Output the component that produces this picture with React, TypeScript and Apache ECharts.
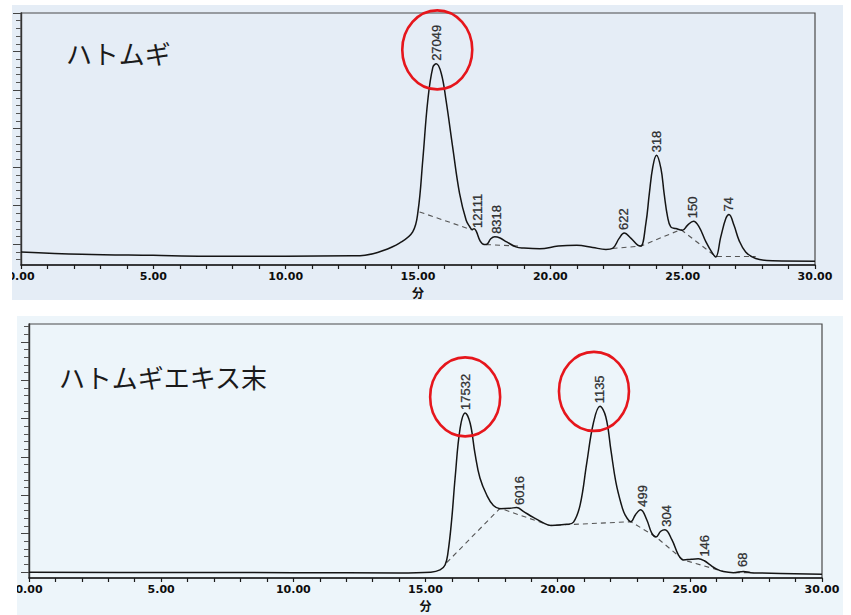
import React, { useEffect, useRef } from "react";
import * as echarts from "echarts";

// ---------- shared axis settings ----------
const timeMin = 0;
const timeMax = 30;
const timeLabelStep = 5;
const majorSignalTicks = [0, 10, 20, 30, 40, 50, 60];

// ---------- ハトムギ (top) ----------
const hatomugiTitle = "ハトムギ";
const hatomugiTime = [
  0, 2.3, 5, 7, 10, 12.5, 13.0, 13.66, 14.3, 14.8, 15.0, 15.18, 15.37, 15.56, 15.69, 15.88,
  16.06, 16.31, 16.57, 16.82, 16.95, 17.05, 17.12, 17.2, 17.35, 17.5, 17.6, 17.75, 17.9,
  18.1, 18.35, 18.7, 19.0, 19.6, 20.3, 21.0, 21.6, 22.1, 22.35, 22.6, 22.79, 23.05, 23.3,
  23.42, 23.61, 23.74, 23.87, 24.01, 24.18, 24.3, 24.43, 24.55, 24.74, 24.99, 25.18, 25.41,
  25.62, 25.88, 26.13, 26.25, 26.44, 26.63, 26.75, 26.94, 27.13, 27.38, 27.76, 28.4, 30,
];
const hatomugiSignal = [
  -2.0, -2.6, -2.9, -3.1, -3.1, -3.0, -2.85, -1.7, 0.3, 3.2, 8.5, 21.8, 37.3, 45.9, 46.8, 44.3,
  37.3, 25.2, 13.2, 6.2, 4.6, 3.8, 4.0, 3.4, 0.8, -0.05, 0.0, 1.4, 1.9,
  1.6, 0.6, -0.7, -1.0, -1.2, -0.5, -0.3, -0.85, -1.35, -1.1, 1.5, 2.9, 1.5, -0.26,
  -0.5, 5.4, 13.1, 20.0, 23.06, 19.6, 13.1, 7.1, 4.5, 4.07, 3.6, 4.9, 5.96,
  4.5, 0.6, -2.4, -3.3, 1.9, 6.65, 7.7, 4.9, 1.0, -2.0, -3.7, -4.3, -4.4,
];
const hatomugiPeakTime = [15.69, 17.24, 17.95, 22.77, 24.01, 25.38, 26.75];
const hatomugiPeakSignal = [46.8, 3.4, 1.9, 2.9, 23.06, 5.96, 7.7];
const hatomugiPeakLabel = ["27049", "12111", "8318", "622", "318", "150", "74"];
const hatomugiBaselines = [
  [[15.06, 8.37], [17.07, 3.63]],
  [[17.57, -0.1], [18.83, -0.5]],
  [[22.35, -1.1], [23.42, -0.5], [24.93, 3.8], [26.25, -3.2], [27.76, -3.2]],
];
const hatomugiCircledPeaks = [0];

// ---------- ハトムギエキス末 (bottom) ----------
const extractTitle = "ハトムギエキス末";
const extractTime = [
  0, 5, 10, 14, 15.2, 15.55, 15.74, 15.85, 15.99, 16.12, 16.31, 16.5, 16.69, 16.87, 17.06,
  17.32, 17.57, 17.82, 18.2, 18.45, 18.7, 19.08, 19.46, 19.75, 20.34, 20.6, 20.85, 21.1,
  21.35, 21.6, 21.82, 22.02, 22.2, 22.4, 22.55, 22.77, 22.95, 23.14, 23.37, 23.56, 23.72,
  23.9, 24.06, 24.32, 24.57, 24.76, 25.05, 25.32, 25.55, 25.77, 26.0, 26.27, 26.65, 27.03,
  27.3, 27.66, 30,
];
const extractSignal = [
  -0.1, -0.15, -0.2, -0.3, -0.1, 0.5, 1.8, 5.0, 13.6, 24.5, 37.5, 41.5, 38.8, 31.0, 24.5,
  20.0, 17.3, 16.5, 16.6, 16.8, 15.8, 14.2, 12.8, 12.1, 12.4, 13.0, 17.5, 28.4,
  38.8, 43.2, 40.5, 31.5, 23.5, 17.8, 14.9, 13.1, 15.0, 16.2, 13.6, 10.1, 9.1,
  10.6, 11.0, 8.4, 4.4, 3.1, 3.3, 3.4, 2.9, 1.8, 0.8, 0.1, -0.2, 0.1,
  -0.2, -0.3, -0.6,
];
const extractPeakTime = [16.5, 18.54, 21.6, 23.2, 24.13, 25.54, 26.98];
const extractPeakSignal = [41.5, 16.7, 43.2, 16.2, 11.0, 3.2, 0.5];
const extractPeakLabel = ["17532", "6016", "1135", "499", "304", "146", "68"];
const extractBaselines = [
  [[15.8, 2.4], [17.82, 16.6], [19.71, 12.1], [22.77, 13.1], [23.72, 9.1], [24.76, 3.1], [26.27, 0.1]],
  [[26.7, -0.2], [27.4, -0.2]],
];
const extractCircledPeaks = [0, 2];

// ---------- layout ----------
const panels = [
  {
    title: hatomugiTitle,
    time: hatomugiTime,
    signal: hatomugiSignal,
    peakTime: hatomugiPeakTime,
    peakSignal: hatomugiPeakSignal,
    peakLabel: hatomugiPeakLabel,
    baselines: hatomugiBaselines,
    circled: hatomugiCircledPeaks,
    circleOffsets: [[1, -14]],
    grid: { left: 21, top: 13, width: 794, height: 252 },
    yMin: -5.4,
    yMax: 60,
    titlePos: { left: 66, top: 39 },
    scan: { x: 12, y: 5, width: 831, height: 295, fill: "#e5edf6" },
    cover: { x: 0, y: 0, width: 12, height: 308 },
  },
  {
    title: extractTitle,
    time: extractTime,
    signal: extractSignal,
    peakTime: extractPeakTime,
    peakSignal: extractPeakSignal,
    peakLabel: extractPeakLabel,
    baselines: extractBaselines,
    circled: extractCircledPeaks,
    circleOffsets: [[0, -16], [-6, -15]],
    grid: { left: 29, top: 324, width: 793, height: 254 },
    yMin: -1.6,
    yMax: 64.7,
    titlePos: { left: 59, top: 363 },
    scan: { x: 17, y: 316, width: 826, height: 299, fill: "#edf5fa" },
    cover: { x: 0, y: 308, width: 17, height: 307 },
  },
];

const minorTicks = (min: number, max: number) => {
  const out: number[] = [];
  for (let v = Math.ceil(min / 2) * 2; v <= max; v += 2) {
    if (v % 10 !== 0) out.push(v);
  }
  return out;
};

export default function App() {
  const ref = useRef<HTMLDivElement>(null);

  useEffect(() => {
    if (!ref.current) return;
    const chart = echarts.init(ref.current, undefined, { renderer: "svg" });

    const grids: any[] = [];
    const xAxes: any[] = [];
    const yAxes: any[] = [];
    const series: any[] = [];
    const titles: any[] = [];

    panels.forEach((p, i) => {
      grids.push({
        ...p.grid,
        show: true,
        borderColor: "#4a4a4a",
        borderWidth: 1.2,
        backgroundColor: "transparent",
        containLabel: false,
      });
      xAxes.push({
        type: "value",
        gridIndex: i,
        min: timeMin,
        max: timeMax,
        interval: 1,
        name: "分",
        nameLocation: "middle",
        nameGap: 21,
        nameTextStyle: {
          fontFamily: "Noto Sans CJK JP",
          fontWeight: "bold",
          fontSize: 12,
          color: "#111",
          verticalAlign: "top",
        },
        axisLine: { show: true, onZero: false, lineStyle: { color: "#1a1a1a", width: 1.5 } },
        axisTick: { show: true, length: 4, lineStyle: { color: "#1a1a1a", width: 1.2 } },
        axisLabel: {
          show: true,
          margin: 6,
          fontFamily: "DejaVu Sans",
          fontWeight: "bold",
          fontSize: 11,
          color: "#0d0d0d",
          showMinLabel: true,
          showMaxLabel: true,
          formatter: (v: number) => (Math.round(v) % timeLabelStep === 0 ? v.toFixed(2) : ""),
        },
        splitLine: { show: false },
      });
      yAxes.push({
        type: "value",
        gridIndex: i,
        position: "left",
        min: p.yMin,
        max: p.yMax,
        axisLine: { show: true, onZero: false, lineStyle: { color: "#333", width: 1.4 } },
        axisTick: {
          show: true,
          length: 8,
          customValues: majorSignalTicks,
          lineStyle: { color: "#444", width: 1 },
        },
        axisLabel: { show: false },
        splitLine: { show: false },
      });
      yAxes.push({
        type: "value",
        gridIndex: i,
        position: "left",
        min: p.yMin,
        max: p.yMax,
        axisLine: { show: false },
        axisTick: {
          show: true,
          length: 5,
          customValues: minorTicks(p.yMin, p.yMax),
          lineStyle: { color: "#555", width: 1 },
        },
        axisLabel: { show: false },
        splitLine: { show: false },
      });

      series.push({
        type: "line",
        xAxisIndex: i,
        yAxisIndex: i * 2,
        data: p.time.map((t, k) => [t, p.signal[k]]),
        showSymbol: false,
        smooth: 0.4,
        silent: true,
        z: 4,
        lineStyle: { color: "#151515", width: 1.5 },
      });
      p.baselines.forEach((seg) => {
        series.push({
          type: "line",
          xAxisIndex: i,
          yAxisIndex: i * 2,
          data: seg,
          showSymbol: false,
          silent: true,
          z: 3,
          lineStyle: { color: "#555", width: 1.1, type: [5, 4] },
        });
      });
      series.push({
        type: "scatter",
        xAxisIndex: i,
        yAxisIndex: i * 2,
        data: p.peakTime.map((t, k) => [t, p.peakSignal[k]]),
        symbolSize: 0,
        silent: true,
        itemStyle: { color: "transparent" },
        z: 5,
        label: {
          show: true,
          position: "top",
          distance: 3,
          rotate: 90,
          align: "left",
          verticalAlign: "middle",
          fontFamily: "Liberation Sans",
          fontSize: 13,
          color: "#0a0a0a",
          textBorderColor: "#0a0a0a",
          textBorderWidth: 0.35,
          formatter: (q: any) => p.peakLabel[q.dataIndex],
        },
      });

      titles.push({
        text: p.title,
        left: p.titlePos.left,
        top: p.titlePos.top,
        padding: 0,
        textStyle: {
          fontFamily: "Noto Sans CJK JP",
          fontWeight: "normal",
          fontSize: 26,
          color: "#1a1a1a",
        },
      });
    });

    chart.setOption({
      animation: false,
      backgroundColor: "#ffffff",
      title: titles,
      grid: grids,
      xAxis: xAxes,
      yAxis: yAxes,
      series,
    });

    const elements: any[] = [];
    panels.forEach((p, i) => {
      elements.push({
        type: "rect",
        z: -10,
        silent: true,
        shape: { x: p.scan.x, y: p.scan.y, width: p.scan.width, height: p.scan.height },
        style: { fill: p.scan.fill },
      });
      elements.push({
        type: "rect",
        z: 100,
        silent: true,
        shape: { x: p.cover.x, y: p.cover.y, width: p.cover.width, height: p.cover.height },
        style: { fill: "#ffffff" },
      });
      p.circled.forEach((k, c) => {
        const pt = chart.convertToPixel({ gridIndex: i } as any, [p.peakTime[k], p.peakSignal[k]]) as number[];
        const off = p.circleOffsets[c];
        elements.push({
          type: "ellipse",
          z: 60,
          silent: true,
          shape: { cx: pt[0] + off[0], cy: pt[1] + off[1], rx: 35, ry: 39.5 },
          style: { fill: "none", stroke: "#e6161c", lineWidth: 2.6 },
        });
      });
    });
    chart.setOption({ graphic: { elements } });

    return () => chart.dispose();
  }, []);

  return (
    <div
      ref={ref}
      style={{ position: "fixed", left: 0, top: 0, width: 851, height: 615 }}
    />
  );
}
